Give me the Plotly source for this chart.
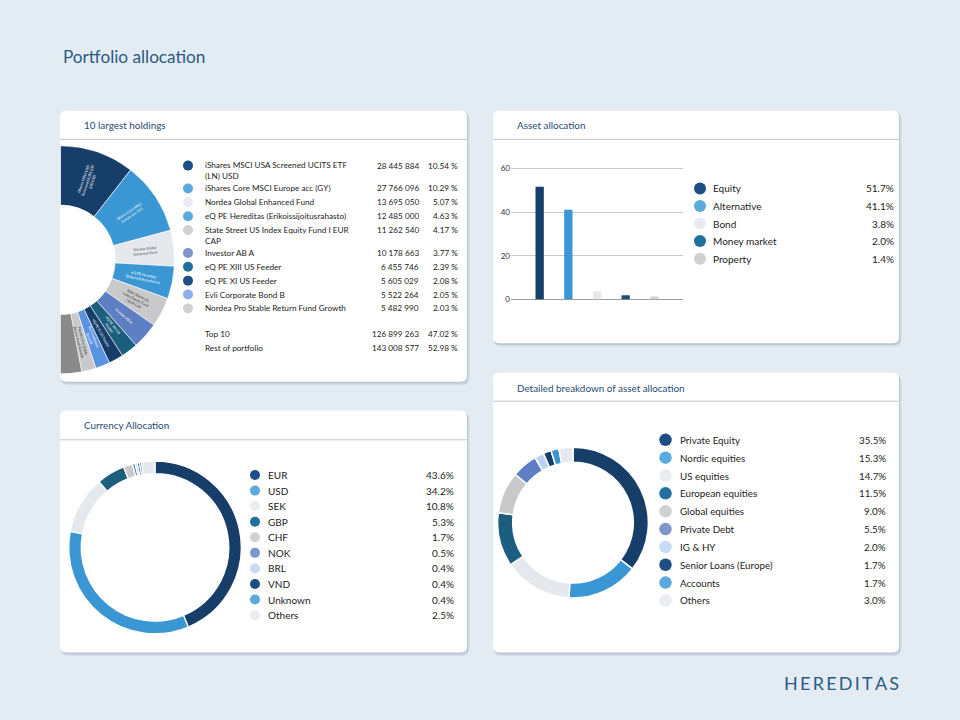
import math
import plotly.graph_objects as go

W, H = 960, 720

# ---------------- data ----------------
holding_names = [
    "iShares MSCI USA Screened UCITS ETF (LN) USD",
    "iShares Core MSCI Europe acc (GY)",
    "Nordea Global Enhanced Fund",
    "eQ PE Hereditas (Erikoissijoitusrahasto)",
    "State Street US Index Equity Fund I EUR CAP",
    "Investor AB A",
    "eQ PE XIII US Feeder",
    "eQ PE XI US Feeder",
    "Evli Corporate Bond B",
    "Nordea Pro Stable Return Fund Growth",
]
table_labels = [
    "iShares MSCI USA Screened UCITS ETF<br>(LN) USD",
    "iShares Core MSCI Europe acc (GY)",
    "Nordea Global Enhanced Fund",
    "eQ PE Hereditas (Erikoissijoitusrahasto)",
    "State Street US Index Equity Fund I EUR<br>CAP",
    "Investor AB A",
    "eQ PE XIII US Feeder",
    "eQ PE XI US Feeder",
    "Evli Corporate Bond B",
    "Nordea Pro Stable Return Fund Growth",
]
holding_amounts = [28445884, 27766096, 13695050, 12485000, 11262540,
                   10178663, 6455746, 5605029, 5522264, 5482990]
holding_pcts = [10.54, 10.29, 5.07, 4.63, 4.17, 3.77, 2.39, 2.08, 2.05, 2.03]
summary_names = ["Top 10", "Rest of portfolio"]
summary_amounts = [126899263, 143008577]
summary_pcts = [47.02, 52.98]

asset_classes = ["Equity", "Alternative", "Bond", "Money market", "Property"]
asset_pcts = [51.7, 41.1, 3.8, 2.0, 1.4]
asset_yticks = [0, 20, 40, 60]

currencies = ["EUR", "USD", "SEK", "GBP", "CHF", "NOK", "BRL", "VND", "Unknown", "Others"]
currency_pcts = [43.6, 34.2, 10.8, 5.3, 1.7, 0.5, 0.4, 0.4, 0.4, 2.5]

breakdown_names = ["Private Equity", "Nordic equities", "US equities", "European equities",
                   "Global equities", "Private Debt", "IG & HY", "Senior Loans (Europe)",
                   "Accounts", "Others"]
breakdown_pcts = [35.5, 15.3, 14.7, 11.5, 9.0, 5.5, 2.0, 1.7, 1.7, 3.0]

# ---------------- styles ----------------
FONT = "Lato"
BG = "#e3ecf3"
TXT = "#1c1c1c"
TITLE_BLUE = "#1f4a73"

NAVY, LBLUE, PALEGRAY, TEAL = "#173e69", "#3b97d3", "#e5e8ec", "#1b5e7e"
GRAY, PERI, PALEBLUE, CORN, REST = "#c9c9cb", "#5f7fc4", "#b9d4ee", "#5b93e3", "#8a8a8a"
L_NAVY, L_LBLUE, L_PALEGRAY, L_TEAL = "#1f4e85", "#5aaade", "#e9ecf0", "#21709f"
L_GRAY, L_PERI, L_PALEBLUE, L_CORN = "#d1d1d3", "#7f96cc", "#c6dcf0", "#8eaeea"

holding_colors = [NAVY, LBLUE, PALEGRAY, LBLUE, GRAY, PERI, TEAL, NAVY, CORN, GRAY]
holding_lcolors = [L_NAVY, L_LBLUE, L_PALEGRAY, L_LBLUE, L_GRAY, L_PERI, L_TEAL, L_NAVY, L_CORN, L_GRAY]
holding_txtcol = ["white", "white", "#444", "white", "#333", "white", "white", "white", "white", "#333"]

asset_bar_colors = [NAVY, LBLUE, PALEGRAY, "#1b4f72", "#d3d3d5"]
asset_lcolors = [L_NAVY, L_LBLUE, L_PALEGRAY, L_TEAL, L_GRAY]

cur_colors = [NAVY, LBLUE, PALEGRAY, TEAL, GRAY, PERI, PALEBLUE, NAVY, LBLUE, PALEGRAY]
cur_lcolors = [L_NAVY, L_LBLUE, L_PALEGRAY, L_TEAL, L_GRAY, L_PERI, L_PALEBLUE, L_NAVY, L_LBLUE, L_PALEGRAY]
brk_colors = [NAVY, LBLUE, PALEGRAY, TEAL, GRAY, PERI, PALEBLUE, NAVY, LBLUE, PALEGRAY]
brk_lcolors = cur_lcolors


def px(x):
    return x / W


def py(y):
    return 1 - y / H


def fmt_amount(v):
    return f"{v:,}".replace(",", " ")


fig = go.Figure()
shapes = []
ann = []

# ---------------- cards ----------------
cards = [
    (60, 111, 467, 384, "10 largest holdings", 82, 125, 139.5),
    (493, 111, 899, 345, "Asset allocation", 515, 125, 139.5),
    (60, 413, 467, 657, "Currency Allocation", 82, 428, 442.5),
    (493, 375, 899, 657, "Detailed breakdown of asset allocation", 515, 390, 403.5),
]


def rrect(x0, y0, x1, y1, r):
    pts = [
        ("M", [(x0 + r, y0)]), ("L", [(x1 - r, y0)]), ("Q", [(x1, y0), (x1, y0 + r)]),
        ("L", [(x1, y1 - r)]), ("Q", [(x1, y1), (x1 - r, y1)]), ("L", [(x0 + r, y1)]),
        ("Q", [(x0, y1), (x0, y1 - r)]), ("L", [(x0, y0 + r)]), ("Q", [(x0, y0), (x0 + r, y0)]),
    ]
    s = ""
    for cmd, ps in pts:
        s += cmd + " " + " ".join(f"{px(a):.5f},{py(b):.5f}" for a, b in ps) + " "
    return s + "Z"


for (x0, y0, x1, y1, title, tx, ty, ly) in cards:
    shapes.append(dict(type="path", xref="paper", yref="paper", layer="below",
                       path=rrect(x0 + 1, y0 + 2, x1 + 2.5, y1 + 3.5, 7),
                       fillcolor="rgba(70,90,110,0.10)", line=dict(width=0)))
    shapes.append(dict(type="path", xref="paper", yref="paper", layer="below",
                       path=rrect(x0 + 0.5, y0 + 1, x1 + 1.2, y1 + 1.8, 6),
                       fillcolor="rgba(70,90,110,0.16)", line=dict(width=0)))
    shapes.append(dict(type="path", xref="paper", yref="paper", layer="below",
                       path=rrect(x0, y0, x1, y1, 6),
                       fillcolor="white", line=dict(width=0)))
    shapes.append(dict(type="line", xref="paper", yref="paper", layer="below",
                       x0=px(x0), x1=px(x1), y0=py(ly), y1=py(ly),
                       line=dict(color="#c4c8cc", width=1)))
    ann.append(dict(xref="paper", yref="paper", x=px(tx), y=py(ty), text=title,
                    xanchor="left", yanchor="middle", showarrow=False,
                    font=dict(family=FONT, size=9.9, color=TITLE_BLUE)))

ann.append(dict(xref="paper", yref="paper", x=px(61), y=py(56), text="Portfolio allocation",
                xanchor="left", yanchor="middle", showarrow=False,
                font=dict(family=FONT, size=17.2, color="#2b5a84")))
ann.append(dict(xref="paper", yref="paper", x=px(901), y=py(688),
                text="\u2009".join("HEREDITAS"),
                xanchor="right", yanchor="middle", showarrow=False,
                font=dict(family=FONT, size=18, color="#2d5b82")))

# ---------------- holdings donut (half visible) ----------------
CX, CY, R, HOLE = 60, 261, 115, 0.48
all_pcts = holding_pcts + [summary_pcts[1]]
all_cols = holding_colors + [REST]
widths = [p / 100 * 360 for p in all_pcts]
mids = []
acc = 0
for w_ in widths:
    mids.append(acc + w_ / 2)
    acc += w_
fig.add_trace(go.Barpolar(
    r=[1] * len(all_pcts), theta=mids, width=widths, subplot="polar",
    marker=dict(color=all_cols, line=dict(color="white", width=0.6)),
    hoverinfo="skip", showlegend=False))


def wrap(s, n):
    words, lines, cur = s.split(), [], ""
    for w_ in words:
        if cur and len(cur) + 1 + len(w_) > n:
            lines.append(cur)
            cur = w_
        else:
            cur = (cur + " " + w_).strip()
    lines.append(cur)
    return "<br>".join(lines)


rmid = R * (1 + HOLE) / 2
for i, name in enumerate(holding_names):
    th = math.radians(mids[i])
    ax_ = CX + rmid * math.sin(th)
    ay_ = CY - rmid * math.cos(th)
    ann.append(dict(xref="paper", yref="paper", x=px(ax_), y=py(ay_),
                    text=wrap(name, 18), textangle=mids[i] - 90, showarrow=False,
                    xanchor="center", yanchor="middle",
                    font=dict(family=FONT, size=3.6, color=holding_txtcol[i])))

# ---------------- holdings table ----------------
ROW, EXTRA, LH = 14, 9, 10.2
ys = []
y = 166
for lab in table_labels:
    ys.append(y)
    y += ROW + EXTRA * lab.count("<br>")
fig.add_trace(go.Scatter(x=[188] * 10, y=ys, mode="markers", xaxis="x", yaxis="y",
                         marker=dict(size=10, color=holding_lcolors, line=dict(width=0)),
                         hoverinfo="skip", showlegend=False))
TF = dict(family=FONT, size=8.2, color=TXT)
for i in range(10):
    nl = table_labels[i].count("<br>") + 1
    ann.append(dict(xref="x", yref="y", x=203, y=ys[i] + (nl - 1) * LH / 2, text=table_labels[i],
                    xanchor="left", yanchor="middle", align="left", showarrow=False, font=TF))
    ann.append(dict(xref="x", yref="y", x=421, y=ys[i], text=fmt_amount(holding_amounts[i]),
                    xanchor="right", yanchor="middle", showarrow=False, font=TF))
    ann.append(dict(xref="x", yref="y", x=460, y=ys[i], text=f"{holding_pcts[i]:.2f} %",
                    xanchor="right", yanchor="middle", showarrow=False, font=TF))
sy = ys[-1] + 25.5
for j in range(2):
    yy = sy + j * 14.5
    ann.append(dict(xref="x", yref="y", x=203, y=yy, text=summary_names[j],
                    xanchor="left", yanchor="middle", showarrow=False, font=TF))
    ann.append(dict(xref="x", yref="y", x=421, y=yy, text=fmt_amount(summary_amounts[j]),
                    xanchor="right", yanchor="middle", showarrow=False, font=TF))
    ann.append(dict(xref="x", yref="y", x=460, y=yy, text=f"{summary_pcts[j]:.2f} %",
                    xanchor="right", yanchor="middle", showarrow=False, font=TF))


# ---------------- legends helper ----------------
def legend(labels, vals, cols, mx, lx, vx, y0, dy, msize, fsize):
    yy = [y0 + i * dy for i in range(len(labels))]
    fig.add_trace(go.Scatter(x=[mx] * len(labels), y=yy, mode="markers", xaxis="x", yaxis="y",
                             marker=dict(size=msize, color=cols, line=dict(width=0)),
                             hoverinfo="skip", showlegend=False))
    f = dict(family=FONT, size=fsize, color=TXT)
    for i, lab in enumerate(labels):
        ann.append(dict(xref="x", yref="y", x=lx, y=yy[i], text=lab, xanchor="left",
                        yanchor="middle", showarrow=False, font=f))
        ann.append(dict(xref="x", yref="y", x=vx, y=yy[i], text=f"{vals[i]:.1f}%",
                        xanchor="right", yanchor="middle", showarrow=False, font=f))


# ---------------- asset allocation bars ----------------
fig.add_trace(go.Bar(x=asset_classes, y=asset_pcts, xaxis="x2", yaxis="y2", width=0.29,
                     marker=dict(color=asset_bar_colors, line=dict(width=0)),
                     hoverinfo="skip", showlegend=False))
legend(asset_classes, asset_pcts, asset_lcolors, 700, 711, 896, 189, 17.7, 12, 10)

# ---------------- currency donut ----------------
fig.add_trace(go.Pie(values=currency_pcts, labels=currencies, hole=0.855, sort=False,
                     direction="clockwise", rotation=0, textinfo="none",
                     marker=dict(colors=cur_colors, line=dict(color="white", width=1.3)),
                     domain=dict(x=[px(68), px(242)], y=[py(638), py(464)]),
                     hoverinfo="skip", showlegend=False))
legend(currencies, currency_pcts, cur_lcolors, 255, 266, 456, 478, 15.7, 10, 10)

# ---------------- detailed breakdown donut ----------------
fig.add_trace(go.Pie(values=breakdown_pcts, labels=breakdown_names, hole=0.8, sort=False,
                     direction="clockwise", rotation=0, textinfo="none",
                     marker=dict(colors=brk_colors, line=dict(color="white", width=1.5)),
                     domain=dict(x=[px(497), px(649)], y=[py(602), py(450)]),
                     hoverinfo="skip", showlegend=False))
legend(breakdown_names, breakdown_pcts, brk_lcolors, 665.5, 678, 888, 442.5, 18, 12.5, 9.8)

fig.update_layout(
    width=W, height=H, margin=dict(l=0, r=0, t=0, b=0),
    paper_bgcolor=BG, plot_bgcolor="rgba(0,0,0,0)", showlegend=False,
    shapes=shapes, annotations=ann,
    xaxis=dict(domain=[0, 1], range=[0, W], visible=False, fixedrange=True),
    yaxis=dict(domain=[0, 1], range=[H, 0], visible=False, fixedrange=True),
    xaxis2=dict(domain=[px(511), px(683)], anchor="y2", type="category",
                categoryorder="array", categoryarray=asset_classes, range=[-1, 5],
                showticklabels=False, showgrid=False, zeroline=False, showline=False,
                ticks="", fixedrange=True),
    yaxis2=dict(domain=[py(301), py(164.6)], anchor="x2", range=[0, 62],
                tickvals=asset_yticks, showgrid=True, gridcolor="#c8c8c8", gridwidth=0.8,
                zeroline=True, zerolinecolor="#9a9a9a", zerolinewidth=1, ticks="",
                showline=False, tickfont=dict(family=FONT, size=8, color="#333"),
                fixedrange=True),
    polar=dict(domain=dict(x=[px(CX), px(CX + R)], y=[py(CY + R), py(CY - R)]),
               sector=[-90, 90], hole=HOLE, bgcolor="rgba(0,0,0,0)",
               radialaxis=dict(visible=False, range=[0, 1]),
               angularaxis=dict(visible=False, rotation=90, direction="clockwise")),
)

fig.write_html(
    "out.html",
    config={"displayModeBar": False},
    post_script=(
        "document.documentElement.style.background='" + BG + "';"
        "document.body.style.margin='0px';"
        "document.body.style.background='" + BG + "';"
    ),
)
